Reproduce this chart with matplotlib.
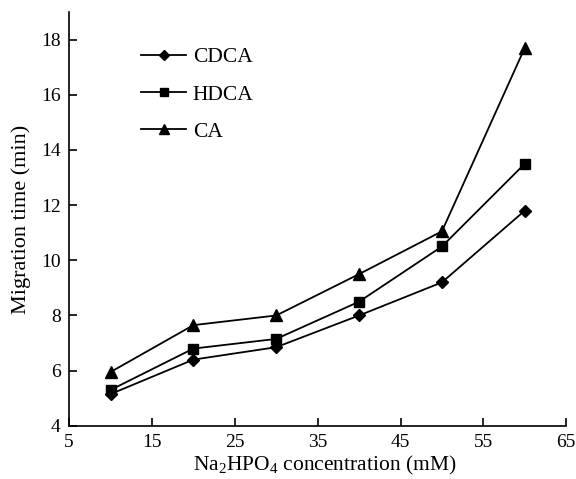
import matplotlib
matplotlib.use("Agg")
import matplotlib.pyplot as plt

plt.rcParams['font.family'] = ['Liberation Serif', 'DejaVu Serif']
plt.rcParams['mathtext.fontset'] = 'custom'
plt.rcParams['mathtext.rm'] = 'Liberation Serif'
plt.rcParams['mathtext.it'] = 'Liberation Serif:italic'

# Na2HPO4 concentration (mM)
conc = [10, 20, 30, 40, 50, 60]
cdca = [5.15, 6.4, 6.85, 8.0, 9.2, 11.8]
hdca = [5.3, 6.8, 7.15, 8.5, 10.5, 13.5]
ca = [5.95, 7.65, 8.0, 9.5, 11.05, 17.7]

fig = plt.figure(figsize=(5.76, 4.79), dpi=100)
ax = fig.add_axes([0.12, 0.111, 0.863, 0.864])

ax.plot(conc, cdca, 'k-', marker='D', ms=6, lw=1.3, label='CDCA')
ax.plot(conc, hdca, 'k-', marker='s', ms=7, lw=1.3, label='HDCA')
ax.plot(conc, ca, 'k-', marker='^', ms=8, lw=1.3, label='CA')

ax.set_xlim(5, 65)
ax.set_ylim(4, 19)
ax.set_xticks([5, 15, 25, 35, 45, 55, 65])
ax.set_yticks([4, 6, 8, 10, 12, 14, 16, 18])
ax.tick_params(direction='in', length=6, width=1.2, labelsize=14, pad=6)
for s in ['top', 'right']:
    ax.spines[s].set_visible(False)
for s in ['left', 'bottom']:
    ax.spines[s].set_linewidth(1.2)

ax.set_xlabel(r'Na$_2$HPO$_4$ concentration (mM)', fontsize=15.5, labelpad=2)
ax.xaxis.label.set_x(0.515)
ax.set_ylabel('Migration time (min)', fontsize=16, labelpad=7)

ax.legend(loc='upper left', bbox_to_anchor=(0.145, 0.915), frameon=False,
          fontsize=15.5, handlelength=2.1, handletextpad=0.3, labelspacing=0.8,
          borderpad=0, borderaxespad=0, markerscale=0.85)

fig.savefig('out.png', dpi=100)
